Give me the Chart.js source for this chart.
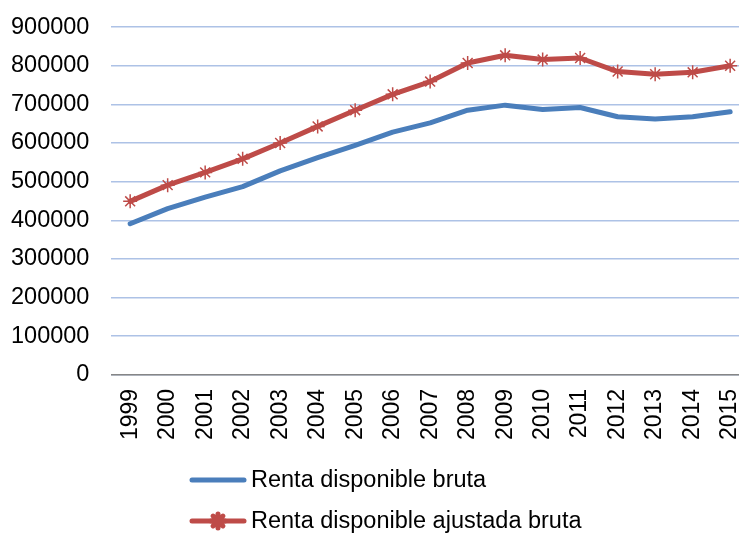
<!DOCTYPE html>
<html>
<head>
<meta charset="utf-8">
<script src="https://cdn.jsdelivr.net/npm/chart.js@4/dist/chart.umd.min.js"></script>
<style>
  html, body { margin: 0; padding: 0; background: #fff; overflow: hidden; }
  #wrap { position: relative; width: 793px; height: 542px; margin-left: -21px; margin-top: -9px; }
</style>
</head>
<body>
<div id="wrap"><canvas id="c"></canvas></div>
<script>
const years = ['1999','2000','2001','2002','2003','2004','2005','2006','2007','2008','2009','2010','2011','2012','2013','2014','2015'];
const rentaBruta = [391000, 430000, 460000, 487000, 528000, 562000, 594000, 628000, 652000, 685000, 698000, 687000, 692000, 668000, 662000, 668000, 681000];
const rentaAjustada = [449000, 491000, 524000, 559000, 600000, 643000, 685000, 726000, 759000, 807000, 827000, 816000, 820000, 785000, 778000, 783000, 800000];
const seriesNames = ['Renta disponible bruta', 'Renta disponible ajustada bruta'];
const yTicks = [0, 100000, 200000, 300000, 400000, 500000, 600000, 700000, 800000, 900000];

const BLUE = '#4A7EBB';
const RED = '#BE4B48';
const FONT = "'Liberation Sans', Arial, sans-serif";
const SHIFT_X = 21; // canvas is shifted left inside the page
const SHIFT_Y = 9;  // canvas is shifted up inside the page

const legendPlugin = {
  id: 'stackedLegend',
  afterDraw(chart) {
    const ctx = chart.ctx;
    const x0 = 190 + SHIFT_X, lineLen = 56, gap = 5;
    const ys = [480 + SHIFT_Y, 521 + SHIFT_Y];
    ctx.save();
    chart.data.datasets.forEach((ds, i) => {
      const y = ys[i];
      ctx.strokeStyle = ds.borderColor;
      ctx.lineWidth = 5;
      ctx.lineCap = 'round';
      ctx.beginPath();
      ctx.moveTo(x0 + 2, y);
      ctx.lineTo(x0 + lineLen - 2, y);
      ctx.stroke();
      if (ds.pointRadius > 0) {
        ctx.strokeStyle = ds.pointBorderColor;
        Chart.helpers.drawPoint(ctx, {
          pointStyle: ds.pointStyle,
          radius: ds.pointRadius,
          borderWidth: ds.pointBorderWidth
        }, x0 + lineLen / 2, y);
      }
      ctx.fillStyle = '#000';
      ctx.font = '23.5px ' + FONT;
      ctx.textBaseline = 'middle';
      ctx.textAlign = 'left';
      ctx.fillText(ds.label, x0 + lineLen + gap, y + 1);
    });
    ctx.restore();
  }
};

new Chart(document.getElementById('c'), {
  type: 'line',
  data: {
    labels: years,
    datasets: [
      {
        label: seriesNames[0],
        data: rentaBruta,
        borderColor: BLUE,
        backgroundColor: BLUE,
        borderWidth: 5,
        borderCapStyle: 'round',
        borderJoinStyle: 'round',
        pointRadius: 0,
        tension: 0
      },
      {
        label: seriesNames[1],
        data: rentaAjustada,
        borderColor: RED,
        backgroundColor: RED,
        borderWidth: 5,
        borderCapStyle: 'round',
        borderJoinStyle: 'round',
        pointStyle: 'star',
        pointRadius: 7,
        pointBorderColor: RED,
        pointBorderWidth: 1.5,
        tension: 0
      }
    ]
  },
  options: {
    responsive: true,
    maintainAspectRatio: false,
    animation: false,
    layout: { padding: { left: 10, right: 3, top: 17, bottom: 79 } },
    plugins: {
      legend: { display: false },
      tooltip: { enabled: false }
    },
    scales: {
      x: {
        offset: true,
        grid: { display: false, drawTicks: false },
        border: { display: true, color: '#868686', width: 1.5 },
        ticks: {
          color: '#000',
          font: { family: FONT, size: 23 },
          minRotation: 90,
          maxRotation: 90,
          padding: 14,
          autoSkip: false
        }
      },
      y: {
        min: 0,
        max: 900000,
        afterBuildTicks(scale) { scale.ticks = yTicks.map(v => ({ value: v })); },
        grid: { color: '#ADC2E6', lineWidth: 1.5, drawTicks: false },
        border: { display: false },
        ticks: {
          color: '#000',
          font: { family: FONT, size: 23.5 },
          padding: 22,
          callback: v => String(v)
        }
      }
    }
  },
  plugins: [legendPlugin]
});
</script>
</body>
</html>
